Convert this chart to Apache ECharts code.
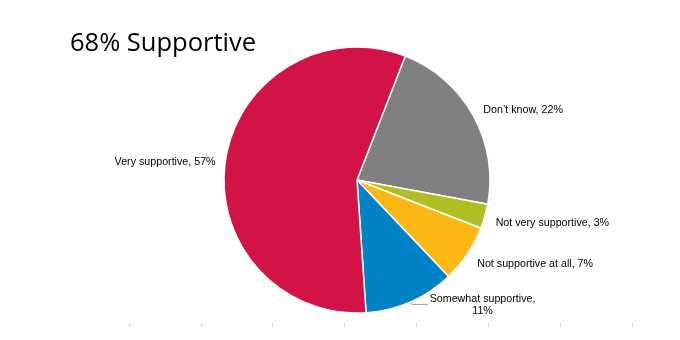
<!DOCTYPE html>
<html>
<head>
<meta charset="utf-8">
<script src="https://cdn.jsdelivr.net/npm/echarts@6/dist/echarts.min.js"></script>
<style>html,body{margin:0;padding:0;background:#fff}#c{width:680px;height:340px}</style>
</head>
<body>
<div id="c"></div>
<script>
const titleText = "68% Supportive";
const categories = ["Don’t know", "Not very supportive", "Not supportive at all", "Somewhat supportive", "Very supportive"];
const values = [22, 3, 7, 11, 57];
const colors = ["#808080", "#B1BD21", "#FDB813", "#0082C6", "#D31245"];
const axisSlots = ["", "", "", "", "", "", ""];

const chart = echarts.init(document.getElementById('c'), null, {renderer: 'canvas'});
const nudge = {
  "Don’t know": [-1, -2],
  "Not very supportive": [-1, 5],
  "Not supportive at all": [-1, 6],
  "Somewhat supportive": [-3, 1],
  "Very supportive": [2, 3]
};
const data = categories.map((name, i) => {
  const d = {name: name, value: values[i], itemStyle: {color: colors[i]}};
  if (name === "Somewhat supportive") {
    d.label = {
      formatter: '{t|{b},}\n{t|{c}%}',
      rich: {t: {align: 'center', fontFamily: 'Liberation Sans', fontSize: 10.7, lineHeight: 12, color: '#000'}}
    };
    d.labelLine = {show: true, length: 3, length2: 16, lineStyle: {color: '#a6a6a6', width: 1}};
  }
  return d;
});
chart.setOption({
  animation: false,
  title: {
    text: titleText, left: 65, top: 26,
    textStyle: {fontFamily: 'Open Sans', fontSize: 25.5, fontWeight: 'normal', color: '#000'}
  },
  grid: {left: 129, right: 48, bottom: 17, top: 300},
  xAxis: {
    type: 'category', data: axisSlots,
    axisLine: {show: false},
    axisTick: {show: true, length: 4, lineStyle: {color: '#d9d9d9'}},
    axisLabel: {show: false}
  },
  yAxis: {type: 'value', show: false},
  series: [
    {type: 'bar', data: [], silent: true},
    {
      type: 'pie',
      center: [357, 180],
      radius: 133,
      startAngle: 68.7,
      clockwise: true,
      data: data,
      itemStyle: {borderColor: '#fff', borderWidth: 1.5},
      label: {
        position: 'outside',
        formatter: '{b}, {c}%',
        fontFamily: 'Liberation Sans',
        fontSize: 10.7,
        color: '#000'
      },
      labelLine: {show: false, length: 7, length2: 0},
      labelLayout: function (p) {
        const n = nudge[categories[p.dataIndex]] || [0, 0];
        return {dx: n[0], dy: n[1]};
      }
    }
  ]
});
</script>
</body>
</html>
